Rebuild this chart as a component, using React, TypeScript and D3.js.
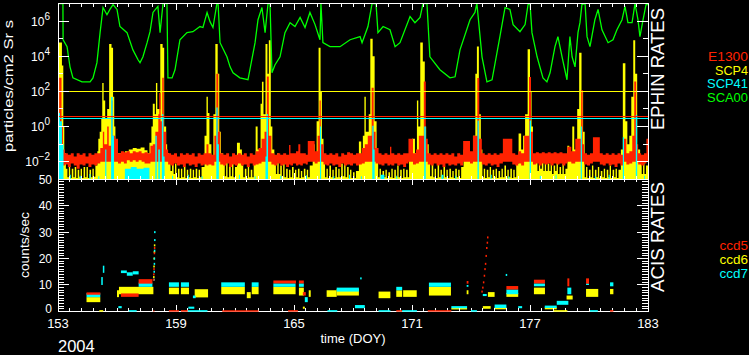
import React from "react";
import * as d3 from "d3";

// ---------- DATA ----------
// EPHIN SCA00 (green) [doy, particles/cm2 Sr s]
const sca00: [number, number][] = [
  [153.0, 1e7], [153.25, 1e7], [153.26, 8.7e4], [153.46, 3.5e4], [153.61, 2500], [153.76, 590], [154.22, 350], [154.63, 350],
  [154.78, 590], [154.98, 4300], [155.14, 2.2e5], [155.29, 5.9e6], [155.49, 2.3e6], [155.64, 4.6e6], [155.8, 8.7e6], [156.0, 4.6e6],
  [156.15, 4.9e5], [156.51, 2.2e5], [156.81, 2.3e4], [157.07, 6300], [157.17, 4300], [157.32, 9300], [157.53, 5.9e4], [157.68, 2.5e5],
  [157.83, 3.1e6], [158.08, 6.8e6], [158.19, 2.2e5], [158.34, 1e7], [158.54, 1e7], [158.59, 590], [158.8, 590], [158.95, 1700],
  [159.2, 8.7e4], [159.56, 2.2e5], [159.86, 2.5e5], [160.22, 4.9e5], [160.37, 4.3e5], [160.58, 3.1e6], [160.73, 9.3e5], [160.88, 4.3e5],
  [161.08, 1e7], [161.14, 1e7], [161.24, 5.9e4], [161.59, 9300], [161.75, 2500], [161.9, 1150], [162.25, 590], [162.66, 460],
  [163.02, 5.9e4], [163.17, 1.2e6], [163.37, 5.9e6], [163.53, 2.2e5], [163.68, 1e7], [163.78, 1e7], [163.88, 1150], [164.03, 3200],
  [164.29, 9300], [164.54, 2.2e5], [164.8, 8.1e5], [165.05, 4.9e5], [165.31, 1.6e6], [165.56, 4.3e5], [165.81, 3.1e6], [166.07, 6.3e5],
  [166.32, 8.7e4], [166.37, 1e7], [166.47, 5.9e4], [166.83, 3.5e4], [167.34, 3.5e4], [167.85, 8.7e4], [168.36, 1.3e5], [168.46, 5.9e4],
  [168.76, 4.9e5], [168.97, 1e7], [169.17, 1e7], [169.27, 2.2e5], [169.53, 4.9e5], [169.88, 3.2e5], [170.14, 3.5e4], [170.39, 5.9e4],
  [170.9, 1.8e6], [171.15, 8.1e5], [171.41, 1.6e6], [171.56, 1e7], [171.76, 1e7], [171.91, 9300], [172.42, 1700], [172.93, 590],
  [173.19, 680], [173.44, 2.3e4], [173.95, 1.2e6], [174.2, 3.1e6], [174.3, 1e7], [174.56, 9300], [174.81, 350], [175.07, 460],
  [175.47, 1.3e5], [175.73, 5.9e6], [175.98, 4.6e6], [176.14, 6.3e5], [176.49, 2.5e5], [176.75, 6.3e5], [176.9, 8.7e6], [177.0, 1e7],
  [177.1, 2.2e5], [177.36, 9300], [177.66, 590], [177.86, 350], [178.02, 1150], [178.27, 3.5e4], [178.42, 1.3e5], [178.63, 9300],
  [178.88, 460], [179.03, 1.3e5], [179.14, 9300], [179.29, 2500], [179.44, 2.2e5], [179.54, 8.1e5], [179.64, 8.7e6], [179.8, 1e7],
  [179.9, 1.3e5], [180.05, 3.5e4], [180.3, 1.2e6], [180.46, 4.6e6], [180.66, 3.2e5], [180.97, 5.9e4], [181.22, 8.7e4], [181.42, 3.2e5],
  [181.68, 1.2e6], [181.83, 6.8e6], [181.98, 8.1e5], [182.19, 8.1e5], [182.34, 1e7], [182.49, 1.2e6], [182.59, 1.3e5], [182.75, 1.2e6],
  [182.9, 8.7e6], [183.0, 8.7e6],
];

// EPHIN E1300 (red) [doy, low, high]
const e1300: [number, number, number][] = [
  [153.0, 0.006, 0.5], [153.06, 0.006, 600], [153.18, 0.006, 1], [153.25, 0.006, 0.05],
  [153.35, 0.007, 0.03], [153.5, 0.005, 0.025], [153.65, 0.008, 0.03], [153.8, 0.006, 0.02], [153.95, 0.004, 0.03], [154.1, 0.007, 0.025],
  [154.25, 0.006, 0.03], [154.4, 0.008, 0.02], [154.55, 0.005, 0.03], [154.7, 0.007, 0.025], [154.85, 0.006, 0.03], [155.0, 0.008, 0.03],
  [155.15, 0.01, 0.06], [155.28, 0.01, 0.5], [155.35, 0.01, 0.1], [155.5, 0.01, 1], [155.58, 0.01, 0.08], [155.7, 0.01, 30], [155.78, 0.01, 0.3],
  [155.9, 0.01, 0.2], [156.05, 0.008, 0.03], [156.2, 0.01, 0.04], [156.35, 0.008, 0.035], [156.5, 0.012, 0.04], [156.65, 0.01, 0.03],
  [156.8, 0.012, 0.04], [156.95, 0.01, 0.035], [157.1, 0.012, 0.04], [157.25, 0.01, 0.03], [157.4, 0.008, 0.035], [157.55, 0.008, 0.03],
  [157.7, 0.01, 0.08], [157.82, 0.01, 0.1], [157.95, 0.01, 0.5], [158.1, 0.01, 5], [158.15, 0.01, 80], [158.22, 0.01, 2], [158.3, 0.01, 600],
  [158.38, 0.01, 0.5], [158.5, 0.01, 0.05], [158.6, 0.007, 0.03], [158.75, 0.006, 0.025], [158.9, 0.008, 0.03], [159.05, 0.006, 0.02],
  [159.2, 0.007, 0.03], [159.35, 0.005, 0.025], [159.5, 0.008, 0.03], [159.65, 0.006, 0.025], [159.8, 0.007, 0.03], [159.95, 0.005, 0.02],
  [160.1, 0.008, 0.03], [160.25, 0.006, 0.025], [160.4, 0.007, 0.03], [160.55, 0.006, 0.1], [160.65, 0.007, 0.03], [160.8, 0.006, 0.025],
  [160.95, 0.01, 0.3], [161.05, 0.01, 1000], [161.15, 0.01, 0.5], [161.25, 0.007, 0.03], [161.4, 0.006, 0.025], [161.55, 0.008, 0.03],
  [161.7, 0.005, 0.02], [161.85, 0.007, 0.03], [162.0, 0.006, 0.025], [162.15, 0.008, 0.03], [162.3, 0.006, 0.025], [162.45, 0.007, 0.03],
  [162.6, 0.005, 0.02], [162.75, 0.008, 0.03], [162.9, 0.006, 0.025], [163.05, 0.007, 0.04], [163.2, 0.008, 0.06], [163.35, 0.01, 0.2],
  [163.5, 0.01, 0.5], [163.62, 0.01, 700], [163.72, 0.01, 0.3], [163.85, 0.007, 0.03], [164.0, 0.006, 0.025], [164.15, 0.008, 0.03],
  [164.3, 0.006, 0.025], [164.45, 0.007, 0.03], [164.6, 0.005, 0.025], [164.75, 0.007, 0.09], [164.82, 0.006, 0.03], [164.95, 0.008, 0.03],
  [165.1, 0.006, 0.04], [165.22, 0.007, 0.1], [165.32, 0.006, 0.03], [165.45, 0.008, 0.03], [165.6, 0.007, 0.025], [165.7, 0.01, 0.15],
  [166.05, 0.008, 0.04], [166.2, 0.01, 0.3], [166.3, 0.01, 30], [166.36, 0.01, 0.1], [166.5, 0.007, 0.03], [166.65, 0.006, 0.025],
  [166.8, 0.008, 0.03], [166.95, 0.006, 0.025], [167.1, 0.007, 0.03], [167.25, 0.005, 0.02], [167.4, 0.008, 0.03], [167.55, 0.006, 0.025],
  [167.7, 0.007, 0.035], [167.85, 0.006, 0.03], [168.0, 0.008, 0.025], [168.15, 0.006, 0.03], [168.3, 0.007, 0.03], [168.45, 0.008, 0.06],
  [168.6, 0.01, 0.1], [168.75, 0.01, 0.3], [168.95, 0.01, 160], [169.05, 0.01, 0.5], [169.15, 0.008, 0.06], [169.3, 0.007, 0.03],
  [169.45, 0.006, 0.025], [169.6, 0.008, 0.03], [169.75, 0.006, 0.025], [169.88, 0.007, 0.07], [169.95, 0.006, 0.03], [170.1, 0.008, 0.025],
  [170.25, 0.006, 0.03], [170.4, 0.007, 0.025], [170.55, 0.005, 0.03], [170.7, 0.008, 0.03], [170.82, 0.01, 0.2], [171.05, 0.007, 0.03],
  [171.2, 0.008, 0.05], [171.35, 0.01, 0.3], [171.6, 0.01, 370], [171.7, 0.01, 0.2], [171.8, 0.007, 0.03], [171.95, 0.006, 0.025],
  [172.1, 0.008, 0.03], [172.25, 0.006, 0.025], [172.4, 0.007, 0.03], [172.55, 0.005, 0.025], [172.7, 0.008, 0.03], [172.85, 0.006, 0.025],
  [173.0, 0.007, 0.03], [173.15, 0.006, 0.02], [173.3, 0.008, 0.03], [173.45, 0.006, 0.025], [173.6, 0.01, 0.15], [173.95, 0.008, 0.04],
  [174.1, 0.01, 0.3], [174.32, 0.01, 575], [174.42, 0.01, 0.2], [174.55, 0.007, 0.03], [174.7, 0.006, 0.025], [174.85, 0.008, 0.03],
  [175.0, 0.006, 0.025], [175.15, 0.007, 0.03], [175.3, 0.005, 0.025], [175.45, 0.008, 0.03], [175.62, 0.01, 0.2], [176.1, 0.007, 0.03],
  [176.25, 0.006, 0.025], [176.4, 0.008, 0.04], [176.55, 0.006, 0.03], [176.7, 0.01, 0.3], [176.95, 0.01, 660], [177.05, 0.01, 0.5],
  [177.15, 0.007, 0.03], [177.3, 0.008, 0.035], [177.45, 0.006, 0.03], [177.6, 0.008, 0.035], [177.75, 0.007, 0.03], [177.9, 0.008, 0.035],
  [178.05, 0.006, 0.03], [178.2, 0.008, 0.035], [178.35, 0.007, 0.03], [178.5, 0.008, 0.035], [178.65, 0.006, 0.03], [178.8, 0.008, 0.03],
  [178.9, 0.01, 0.07], [179.1, 0.008, 0.04], [179.3, 0.01, 0.2], [179.6, 0.01, 120], [179.68, 0.01, 0.1], [179.75, 0.007, 0.03],
  [179.9, 0.006, 0.025], [180.05, 0.008, 0.03], [180.2, 0.01, 0.25], [180.55, 0.007, 0.03], [180.7, 0.006, 0.025], [180.85, 0.008, 0.03],
  [181.0, 0.006, 0.025], [181.15, 0.007, 0.03], [181.3, 0.005, 0.025], [181.45, 0.008, 0.03], [181.6, 0.006, 0.025], [181.75, 0.01, 0.2],
  [181.9, 0.007, 0.03], [182.05, 0.008, 0.04], [182.2, 0.01, 0.3], [182.3, 0.01, 370], [182.4, 0.01, 0.1], [182.5, 0.007, 0.03],
  [182.65, 0.006, 0.025], [182.8, 0.008, 0.03], [182.92, 0.01, 0.2], [183.0, 0.01, 0.2],
];

// EPHIN SCP4 (yellow) [doy, high]
const scp4: [number, number][] = [
  [153.0, 1e4], [153.05, 6e4], [153.2, 3e3], [153.27, 1], [153.32, 0.03], [153.4, 0.004], [153.48, 0.0013], [153.55, 0.006], [153.62, 0.0012],
  [153.7, 0.004], [153.78, 0.0013], [153.85, 0.005], [153.93, 0.0012], [154.0, 0.0035], [154.08, 0.0013], [154.15, 0.004], [154.22, 0.0012],
  [154.3, 0.005], [154.38, 0.0013], [154.45, 0.005], [154.52, 0.0012], [154.6, 0.0035], [154.68, 0.0013], [154.75, 0.004], [154.82, 0.0014],
  [154.9, 0.006], [155.0, 0.04], [155.05, 0.2], [155.12, 0.5], [155.2, 3], [155.25, 300], [155.32, 30], [155.4, 3], [155.5, 10], [155.6, 5e4],
  [155.72, 3e4], [155.8, 50], [155.86, 1], [155.92, 0.1], [155.98, 0.03], [156.2, 0.025], [156.4, 0.04], [156.6, 0.05], [156.8, 0.06],
  [157.0, 0.055], [157.2, 0.065], [157.4, 0.045], [157.55, 0.03], [157.65, 0.12], [157.75, 1], [157.82, 20], [157.92, 5], [157.98, 300],
  [158.05, 10], [158.2, 5e4], [158.32, 3e4], [158.4, 1], [158.5, 0.1], [158.55, 0.03], [158.65, 0.012], [158.72, 0.003], [158.8, 0.015],
  [158.88, 0.002], [158.95, 0.008], [159.02, 0.0013], [159.1, 0.004], [159.18, 0.0012], [159.25, 0.004], [159.32, 0.0013], [159.4, 0.005],
  [159.48, 0.0012], [159.55, 0.0035], [159.62, 0.0013], [159.7, 0.004], [159.78, 0.0012], [159.85, 0.0035], [159.92, 0.0013], [160.0, 0.004],
  [160.08, 0.0012], [160.15, 0.0035], [160.22, 0.0013], [160.3, 0.005], [160.45, 0.3], [160.55, 50], [160.62, 6], [160.7, 0.1],
  [160.8, 0.02], [160.9, 5], [161.0, 5e4], [161.12, 1e3], [161.2, 0.5], [161.28, 0.03], [161.4, 0.008], [161.48, 0.0015], [161.55, 0.015],
  [161.62, 0.0013], [161.7, 0.006], [161.78, 0.0015], [161.85, 0.01], [161.92, 0.0013], [162.0, 0.005], [162.1, 0.12], [162.25, 0.05],
  [162.35, 0.006], [162.42, 0.0013], [162.5, 0.004], [162.58, 0.0012], [162.65, 0.006], [162.72, 0.0013], [162.8, 0.0035], [162.88, 0.0013],
  [162.95, 0.02], [163.05, 1], [163.15, 0.05], [163.3, 20], [163.37, 350], [163.45, 5], [163.55, 5e4], [163.65, 1e3], [163.72, 8e4],
  [163.82, 1], [163.9, 0.05], [164.0, 0.01], [164.08, 0.002], [164.15, 0.03], [164.22, 0.002], [164.3, 0.006], [164.38, 0.0013],
  [164.45, 0.015], [164.52, 0.0013], [164.6, 0.004], [164.68, 0.0012], [164.75, 0.0035], [164.82, 0.0013], [164.9, 0.005], [164.98, 0.0012],
  [165.05, 0.0035], [165.12, 0.0013], [165.2, 0.004], [165.28, 0.0012], [165.35, 0.003], [165.42, 0.0013], [165.5, 0.004], [165.58, 0.0012],
  [165.65, 0.0035], [165.72, 0.0013], [165.8, 0.006], [165.95, 0.1], [166.05, 0.03], [166.15, 2], [166.25, 3e4], [166.35, 100],
  [166.42, 0.2], [166.5, 0.01], [166.58, 0.0013], [166.65, 0.004], [166.72, 0.0012], [166.8, 0.006], [166.88, 0.0013], [166.95, 0.0035],
  [167.02, 0.0012], [167.1, 0.005], [167.18, 0.0013], [167.25, 0.004], [167.32, 0.0013], [167.4, 0.008], [167.48, 0.0015], [167.55, 0.012],
  [167.62, 0.0013], [167.7, 0.005], [167.78, 0.0012], [167.85, 0.0035], [167.92, 0.0012], [168.0, 0.0025], [168.08, 0.0012], [168.15, 0.003],
  [168.3, 0.14], [168.42, 0.01], [168.5, 0.3], [168.58, 50], [168.65, 0.5], [168.8, 5], [168.88, 1e5], [169.0, 1e4], [169.1, 2],
  [169.2, 0.02], [169.28, 0.0013], [169.35, 0.004], [169.42, 0.0012], [169.5, 0.003], [169.58, 0.0013], [169.65, 0.0035], [169.72, 0.0012],
  [169.8, 0.0025], [169.88, 0.0013], [169.95, 0.004], [170.02, 0.0012], [170.1, 0.0035], [170.18, 0.0013], [170.25, 0.006], [170.32, 0.0013],
  [170.4, 0.0035], [170.48, 0.0012], [170.55, 0.004], [170.62, 0.0013], [170.7, 0.0035], [170.78, 0.0013], [170.85, 0.05], [171.0, 0.2],
  [171.15, 0.03], [171.25, 30], [171.32, 1], [171.42, 6e4], [171.55, 5e3], [171.65, 1], [171.72, 0.1], [171.85, 0.008], [171.92, 0.0015],
  [172.0, 0.012], [172.08, 0.0013], [172.15, 0.004], [172.22, 0.0012], [172.3, 0.008], [172.38, 0.0013], [172.45, 0.0035], [172.52, 0.0012],
  [172.6, 0.005], [172.68, 0.0013], [172.75, 0.0035], [172.82, 0.0012], [172.9, 0.004], [172.98, 0.0013], [173.05, 0.003], [173.12, 0.0012],
  [173.2, 0.004], [173.28, 0.0013], [173.35, 0.0035], [173.42, 0.0012], [173.5, 0.005], [173.62, 0.05], [173.8, 0.06], [173.95, 0.02],
  [174.1, 0.3], [174.22, 1e3], [174.3, 3.6e4], [174.4, 5], [174.5, 0.05], [174.58, 0.0013], [174.65, 0.004], [174.72, 0.0012],
  [174.8, 0.0035], [174.88, 0.0013], [174.95, 0.005], [175.02, 0.0012], [175.1, 0.0035], [175.18, 0.0013], [175.25, 0.004], [175.32, 0.0012],
  [175.4, 0.003], [175.48, 0.0013], [175.55, 0.004], [175.62, 0.0013], [175.7, 0.006], [175.78, 0.0012], [175.85, 0.0035], [175.92, 0.0013],
  [176.0, 0.004], [176.08, 0.0012], [176.15, 0.0035], [176.22, 0.0013], [176.3, 0.008], [176.42, 0.4], [176.55, 0.05], [176.65, 0.3],
  [176.75, 5], [176.88, 2.5e4], [177.0, 100], [177.08, 1], [177.15, 0.02], [177.3, 0.012], [177.38, 0.003], [177.45, 0.015], [177.52, 0.004],
  [177.6, 0.01], [177.68, 0.003], [177.75, 0.012], [177.82, 0.003], [177.9, 0.008], [177.98, 0.003], [178.05, 0.01], [178.12, 0.002],
  [178.2, 0.006], [178.28, 0.003], [178.35, 0.012], [178.42, 0.002], [178.5, 0.005], [178.58, 0.002], [178.65, 0.008], [178.72, 0.002],
  [178.8, 0.004], [178.9, 0.08], [179.0, 0.02], [179.15, 1], [179.25, 0.05], [179.4, 10], [179.5, 1.6e4], [179.62, 100], [179.7, 0.5],
  [179.78, 0.0013], [179.85, 0.005], [179.92, 0.0012], [180.0, 0.0035], [180.08, 0.0013], [180.15, 0.006], [180.22, 0.0012], [180.3, 0.0035],
  [180.38, 0.0013], [180.45, 0.005], [180.52, 0.0012], [180.6, 0.003], [180.68, 0.0013], [180.75, 0.004], [180.82, 0.0012], [180.9, 0.0035],
  [180.98, 0.0013], [181.05, 0.006], [181.12, 0.0012], [181.2, 0.0035], [181.28, 0.0013], [181.35, 0.004], [181.42, 0.0012], [181.5, 0.0035],
  [181.62, 0.05], [181.72, 4e3], [181.85, 2], [181.95, 0.1], [182.05, 0.3], [182.15, 50], [182.25, 8e4], [182.35, 1e3], [182.45, 0.05],
  [182.6, 0.01], [182.68, 0.002], [182.75, 0.02], [182.82, 0.002], [182.9, 0.006], [183.0, 0.006],
];

// EPHIN SCP41 (cyan) [doy, high]
const scp41: [number, number][] = [
  [153.0, 6], [153.1, 2], [153.2, 0.1], [153.28, 0.001], [153.6, 0.0018], [153.65, 0.001], [154.1, 0.0016], [154.15, 0.001],
  [154.6, 0.002], [154.65, 0.001], [155.05, 0.0015], [155.1, 0.001], [155.4, 0.05], [155.46, 0.001], [155.7, 48], [155.78, 0.3],
  [155.85, 0.001], [156.4, 0.004], [156.7, 0.005], [157.0, 0.004], [157.35, 0.0045], [157.65, 0.001], [157.95, 0.3], [158.02, 0.001],
  [158.1, 0.05], [158.18, 0.001], [158.28, 5], [158.36, 0.02], [158.42, 0.001], [158.8, 0.0016], [158.85, 0.001], [159.6, 0.0018],
  [159.65, 0.001], [160.3, 0.0015], [160.35, 0.001], [161.05, 12], [161.12, 0.1], [161.18, 0.001], [162.2, 0.0018], [162.25, 0.001],
  [163.0, 0.0015], [163.05, 0.001], [163.55, 0.02], [163.6, 5], [163.68, 0.001], [164.3, 0.0016], [164.35, 0.001], [165.0, 0.0015],
  [165.05, 0.001], [165.6, 0.0017], [165.65, 0.001], [166.32, 1], [166.38, 0.001], [167.0, 0.0015], [167.05, 0.001], [167.8, 0.0018],
  [167.85, 0.001], [168.4, 0.0015], [168.45, 0.001], [168.98, 1.1], [169.05, 0.05], [169.1, 0.001], [169.4, 0.0018], [169.6, 0.001],
  [170.2, 0.0016], [170.25, 0.001], [171.0, 0.0015], [171.05, 0.001], [171.62, 1], [171.7, 0.001], [172.5, 0.0018], [172.6, 0.001],
  [173.2, 0.0016], [173.25, 0.001], [174.33, 2.2], [174.4, 0.001], [175.0, 0.0018], [175.05, 0.001], [175.9, 0.0015], [175.95, 0.001],
  [176.98, 2.2], [177.05, 0.001], [177.5, 0.0016], [177.55, 0.001], [178.3, 0.0018], [178.35, 0.001], [179.58, 1], [179.64, 0.001],
  [180.3, 0.0015], [180.35, 0.001], [181.0, 0.0018], [181.05, 0.001], [181.72, 0.25], [181.78, 0.001], [182.38, 4.5], [182.45, 0.001],
  [182.8, 0.0016], [182.85, 0.001], [183.0, 0.001],
];

// alert limits
const scp4Limit = 105;
const e1300Limit = 3.4;
const scp41Limit = 2.9;

// ACIS rates blocks [startDoy, endDoy, low, high] counts/sec
const ccd5Blocks: [number, number, number, number][] = [
  [154.45, 155.15, 6.3, 7.2], [156.2, 157.1, 5.5, 6.8], [157.1, 157.8, 10.5, 12.2], [163.95, 165.1, 10.6, 11.7],
  [165.25, 165.5, 10.6, 11.7], [165.45, 165.6, 6, 7.3], [173.78, 173.87, 10.5, 11.5], [175.8, 176.4, 8.3, 9.6],
  [177.2, 177.76, 10.6, 12], [178.9, 179.0, 9.5, 12.5], [179.85, 180.0, 10.5, 12.5],
];
const ccd6Blocks: [number, number, number, number][] = [
  [154.45, 155.15, 3.5, 5.4], [156.0, 156.1, 5.4, 8], [156.1, 157.85, 6.5, 9.3], [158.64, 159.15, 6.5, 9], [159.25, 159.66, 6.5, 9],
  [159.95, 160.63, 5.3, 8.4], [161.3, 162.5, 6.5, 9.3], [162.6, 162.8, 5, 7.3], [162.85, 163.2, 6.5, 9.3], [163.95, 165.08, 6.5, 9.3],
  [165.25, 165.5, 6, 9], [165.75, 165.85, 5.5, 8], [166.66, 167.17, 5.5, 8], [167.17, 168.3, 6, 8.5], [169.3, 169.9, 5, 7.5],
  [170.2, 170.5, 5.5, 8], [170.55, 171.24, 5.5, 8], [171.86, 172.98, 6, 9.3], [173.78, 173.87, 6.5, 8], [174.86, 175.2, 5.5, 7.3],
  [175.8, 176.4, 5.5, 7], [177.2, 177.76, 6.5, 9], [178.86, 179.17, 4.5, 6], [179.85, 180.47, 5.5, 8.5], [181.07, 181.24, 6.5, 8.5],
  [165.45, 165.55, 1, 1.8], [173.0, 173.8, 0.8, 1.3], [174.6, 175.0, 1, 2], [175.2, 175.8, 0.8, 1.5], [177.75, 178.36, 0.8, 1.5],
];
const ccd7Blocks: [number, number, number, number][] = [
  [154.45, 155.15, 5.4, 6.9], [155.28, 155.33, 14.6, 17.3], [155.2, 155.25, 10, 13], [156.2, 156.5, 14.5, 15.5],
  [156.5, 156.8, 13.5, 14.8], [156.8, 157.1, 14, 15.2], [157.1, 157.8, 9.3, 10.9], [158.64, 159.15, 9.3, 11],
  [159.25, 159.66, 9.3, 11], [159.86, 160.0, 5, 6], [161.3, 162.5, 9.3, 11], [162.85, 163.2, 9.3, 11], [163.95, 165.08, 9.3, 10.6],
  [165.25, 165.5, 9.3, 10.6], [165.55, 165.7, 3.5, 5.4], [167.17, 168.3, 7.5, 9], [170.2, 170.5, 8, 9.3], [171.86, 172.98, 9.3, 10.9],
  [173.78, 173.87, 9.3, 10], [174.6, 174.8, 5.8, 6.6], [175.8, 176.4, 6.5, 8.3], [177.2, 177.76, 9.5, 10.6], [178.9, 179.1, 6.5, 9],
  [179.85, 180.0, 10, 10.6], [181.07, 181.24, 9.5, 11], [156.07, 156.24, 1.2, 2], [159.63, 159.93, 1, 1.8], [168.1, 168.6, 1.2, 2.4],
  [173.0, 173.8, 1.2, 2], [175.2, 175.8, 1.3, 2.6], [176.4, 176.6, 1.2, 2], [177.75, 178.36, 1.3, 2.2], [178.36, 178.95, 2.5, 4],
];
// isolated ACIS points [doy, counts/sec]
const ccd5Points: [number, number][] = [
  [157.86, 12], [157.87, 14], [157.88, 16], [157.9, 22], [157.91, 24],
  [174.56, 7.5], [174.6, 9], [174.64, 11], [174.68, 13.5], [174.71, 16], [174.74, 18], [174.77, 21], [174.8, 24], [174.83, 26], [174.85, 28],
];
const ccd6Points: [number, number][] = [[157.87, 13], [157.88, 17], [157.89, 20], [157.9, 22.5], [157.91, 25]];
const ccd7Points: [number, number][] = [
  [157.88, 12], [157.89, 15], [157.9, 18], [157.9, 20], [157.91, 23], [157.92, 27], [157.92, 30], [175.8, 13.8], [168.4, 12.5],
];
// zero-level dashes along time axis [start, end]
const ccd5Zero: [number, number][] = [[157.85, 157.9], [158.64, 159.15], [159.25, 159.6], [161.35, 163.2], [164.7, 165.2], [170.2, 170.5], [171.8, 173.0], [181.07, 181.24]];
const ccd6Zero: [number, number][] = [[155.1, 155.3], [178.2, 178.9]];
const ccd7Zero: [number, number][] = [[156.6, 157.0], [159.6, 160.6], [166.7, 167.2], [169.3, 169.9], [170.5, 171.25], [174.0, 174.3], [180.05, 180.45]];

const timeTicks = [153, 159, 165, 171, 177, 183];
const topTickExps = [-2, 0, 2, 4, 6];
const acisTicks = [0, 10, 20, 30, 40, 50];

const RED = "#ff2200";
const YEL = "#ffff00";
const CYA = "#00ffff";
const GRN = "#00ff00";
const FONT = "'Liberation Sans', Arial, sans-serif";

export default function App() {
  const L = 58, R = 648, T = 3.5, MID = 179.3, B = 311.4;
  const x = d3.scaleLinear().domain([153, 183]).range([L, R]);
  const yT = d3.scaleLog().domain([1e-3, 1e7]).range([MID, T]).clamp(true);
  const yB = d3.scaleLinear().domain([0, 50]).range([B, MID]);

  const areaHi = d3.area<[number, number]>().x(d => x(d[0])).y0(yT(1e-3)).y1(d => yT(d[1])).curve(d3.curveStepAfter);
  const areaRed = d3.area<[number, number, number]>().x(d => x(d[0])).y0(d => yT(d[1])).y1(d => yT(d[2])).curve(d3.curveStepAfter);
  const line = d3.line<[number, number]>().x(d => x(d[0])).y(d => yT(d[1]));

  const minor = d3.range(0, 51).map(i => 153 + i * 0.6);
  const decades = d3.range(-3, 8);
  const units = d3.range(0, 51);
  const snap = (v: number) => Math.round(v) + 0.5;

  const blocks = (arr: [number, number, number, number][], c: string) =>
    arr.map((b, i) => (
      <rect key={i} x={x(b[0])} y={yB(b[3])} width={Math.max(1.5, x(b[1]) - x(b[0]))} height={Math.max(1.5, yB(b[2]) - yB(b[3]))} fill={c} />
    ));
  const pts = (arr: [number, number][], c: string) =>
    arr.map((p, i) => <rect key={i} x={x(p[0]) - 0.7} y={yB(p[1]) - 1} width={1.5} height={2} fill={c} />);
  const zeros = (arr: [number, number][], c: string) =>
    arr.map((s, i) => <line key={i} x1={x(s[0])} x2={x(s[1])} y1={B - 0.5} y2={B - 0.5} stroke={c} strokeWidth={1.5} />);

  return (
    <svg width={749} height={355} style={{ position: "absolute", left: 0, top: 0, background: "#000" }} fontFamily={FONT}>
      <rect x={0} y={0} width={749} height={355} fill="#000" />
      <defs>
        <clipPath id="cTop"><rect x={L} y={T} width={R - L} height={MID - T} /></clipPath>
        <clipPath id="cBot"><rect x={L} y={MID} width={R - L} height={B - MID} /></clipPath>
      </defs>

      {/* top panel data */}
      <g clipPath="url(#cTop)">
        <path d={areaHi(scp4) || ""} fill={YEL} />
        <path d={areaRed(e1300) || ""} fill={RED} />
        <path d={areaHi(scp41) || ""} fill={CYA} />
        <g shapeRendering="crispEdges">
          <line x1={L} x2={R} y1={snap(yT(scp4Limit))} y2={snap(yT(scp4Limit))} stroke={YEL} strokeWidth={1} />
          <line x1={L} x2={R} y1={snap(yT(e1300Limit)) - 1} y2={snap(yT(e1300Limit)) - 1} stroke={RED} strokeWidth={1} />
          <line x1={L} x2={R} y1={snap(yT(scp41Limit))} y2={snap(yT(scp41Limit))} stroke={CYA} strokeWidth={1} />
        </g>
        <path d={line(sca00) || ""} fill="none" stroke={GRN} strokeWidth={1.3} />
      </g>

      {/* bottom panel data */}
      <g clipPath="url(#cBot)">
        {blocks(ccd6Blocks, YEL)}
        {blocks(ccd7Blocks, CYA)}
        {blocks(ccd5Blocks, RED)}
        {pts(ccd6Points, YEL)}
        {pts(ccd7Points, CYA)}
        {pts(ccd5Points, RED)}
      </g>

      {/* frames */}
      <g stroke="#fff" strokeWidth={1} fill="none" shapeRendering="crispEdges">
        <rect x={L} y={T} width={R - L} height={MID - T} />
        <rect x={L} y={MID} width={R - L} height={B - MID} />
        {minor.map((d, i) => {
          const maj = i % 10 === 0;
          const len = maj ? 6 : 3;
          return (
            <g key={i}>
              <line x1={x(d)} x2={x(d)} y1={T} y2={T + len} />
              <line x1={x(d)} x2={x(d)} y1={MID} y2={MID - len} />
              <line x1={x(d)} x2={x(d)} y1={MID} y2={MID + len} />
              <line x1={x(d)} x2={x(d)} y1={B} y2={B - len} />
            </g>
          );
        })}
        {decades.map(e => {
          const len = e % 2 === 0 ? 11 : 5;
          const yy = yT(10 ** e);
          return (
            <g key={e}>
              <line x1={L} x2={L + len} y1={yy} y2={yy} />
              <line x1={R} x2={R - len} y1={yy} y2={yy} />
            </g>
          );
        })}
        {units.map(u => {
          const len = u % 10 === 0 ? 11 : 6;
          return (
            <g key={u}>
              <line x1={L} x2={L + len} y1={yB(u)} y2={yB(u)} />
              <line x1={R} x2={R - len} y1={yB(u)} y2={yB(u)} />
            </g>
          );
        })}
      </g>
      {zeros(ccd5Zero, RED)}
      {zeros(ccd6Zero, YEL)}
      {zeros(ccd7Zero, CYA)}

      {/* labels */}
      <g fill="#fff">
        {topTickExps.map(e => (
          <text key={e} x={50} y={yT(10 ** e) + 4.5} textAnchor="end" fontSize={12}>
            10<tspan dy={-6} fontSize={10}>{e < 0 ? "\u2212" + Math.abs(e) : String(e)}</tspan>
          </text>
        ))}
        {acisTicks.map(v => (
          <text key={v} x={52} y={yB(v) + (v === 0 ? 2 : 4.5)} textAnchor="end" fontSize={12}>{v}</text>
        ))}
        {timeTicks.map(t => (
          <text key={t} x={x(t)} y={328} textAnchor="middle" fontSize={13}>{t}</text>
        ))}
        <text x={353} y={342.5} textAnchor="middle" fontSize={13}>time (DOY)</text>
        <text x={58} y={352} fontSize={16.5}>2004</text>
        <text transform="translate(13,86) rotate(-90)" textAnchor="middle" fontSize={13} textLength={132} lengthAdjust="spacingAndGlyphs">particles/cm2 Sr s</text>
        <text transform="translate(29,245) rotate(-90)" textAnchor="middle" fontSize={13.5} textLength={66} lengthAdjust="spacingAndGlyphs">counts/sec</text>
        <text transform="translate(664,69) rotate(-90)" textAnchor="middle" fontSize={19} textLength={122} lengthAdjust="spacingAndGlyphs">EPHIN RATES</text>
        <text transform="translate(664,237) rotate(-90)" textAnchor="middle" fontSize={19} textLength={110} lengthAdjust="spacingAndGlyphs">ACIS RATES</text>
      </g>
      <g fontSize={13.5} textAnchor="end">
        <text x={748} y={61} fill={RED} textLength={40} lengthAdjust="spacingAndGlyphs">E1300</text>
        <text x={748} y={74.5} fill={YEL} textLength={33} lengthAdjust="spacingAndGlyphs">SCP4</text>
        <text x={748} y={88} fill={CYA} textLength={41} lengthAdjust="spacingAndGlyphs">SCP41</text>
        <text x={748} y={102} fill={GRN} textLength={41} lengthAdjust="spacingAndGlyphs">SCA00</text>
      </g>
      <g fontSize={13.5} textAnchor="end">
        <text x={748} y={250} fill={RED}>ccd5</text>
        <text x={748} y={264} fill={YEL}>ccd6</text>
        <text x={748} y={278} fill={CYA}>ccd7</text>
      </g>
    </svg>
  );
}
